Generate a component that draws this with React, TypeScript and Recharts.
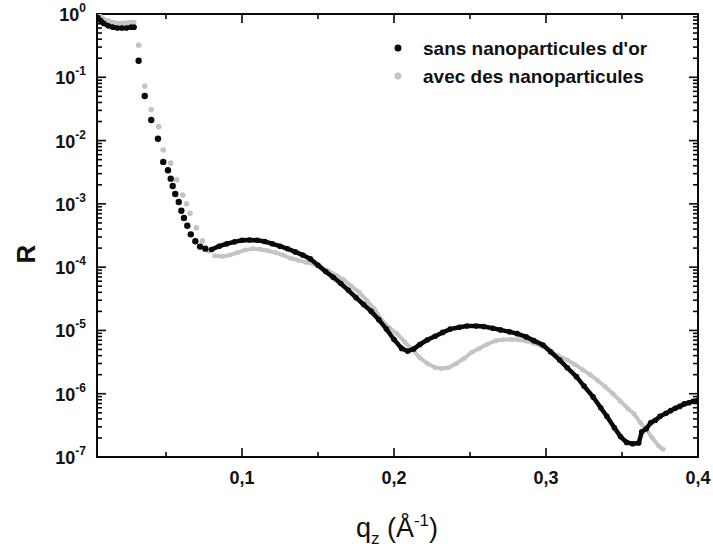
import { ScatterChart, Scatter, XAxis, YAxis } from "recharts"

// q_z (Å^-1) and reflectivity R
const qSans = [
  0.005, 0.007, 0.009, 0.012, 0.015, 0.018, 0.021, 0.024, 0.027, 0.029,
  0.032, 0.036, 0.0403, 0.0447, 0.0482, 0.0513, 0.0531, 0.0544, 0.0561, 0.0584,
  0.0601, 0.0618, 0.064, 0.0663, 0.0693, 0.0724, 0.0759,
  0.08, 0.085, 0.09, 0.095, 0.1, 0.105, 0.11, 0.115, 0.12, 0.125,
  0.13, 0.135, 0.14, 0.145, 0.15, 0.155, 0.16, 0.165, 0.17, 0.175,
  0.18, 0.185, 0.19, 0.195, 0.2, 0.205, 0.209, 0.213, 0.217, 0.222,
  0.227, 0.232, 0.237, 0.243, 0.248, 0.254, 0.259, 0.265, 0.27, 0.276,
  0.281, 0.287, 0.292, 0.298, 0.303, 0.309, 0.314, 0.32, 0.325, 0.331,
  0.336, 0.34, 0.345, 0.349, 0.353, 0.357, 0.361, 0.363, 0.366, 0.369,
  0.372, 0.375, 0.379, 0.382, 0.385, 0.388, 0.391, 0.394, 0.397, 0.4,
]
const rSans = [
  0.89, 0.79, 0.71, 0.65, 0.62, 0.6, 0.6, 0.6, 0.62, 0.62,
  0.183, 0.0507, 0.0211, 0.0107, 4.6e-3, 3.4e-3, 2.5e-3, 1.92e-3, 1.43e-3, 1.07e-3,
  7.8e-4, 6.0e-4, 4.5e-4, 3.3e-4, 2.56e-4, 2.11e-4, 1.96e-4,
  1.9e-4, 2.14e-4, 2.34e-4, 2.51e-4, 2.66e-4, 2.69e-4, 2.66e-4, 2.54e-4, 2.34e-4, 2.14e-4,
  1.95e-4, 1.74e-4, 1.55e-4, 1.35e-4, 1.07e-4, 8.5e-5, 6.9e-5, 5.5e-5, 4.3e-5, 3.3e-5,
  2.57e-5, 2.0e-5, 1.48e-5, 1.05e-5, 7.2e-6, 5.2e-6, 4.7e-6, 5.1e-6, 6.0e-6, 7.1e-6,
  8.1e-6, 9.3e-6, 1.05e-5, 1.12e-5, 1.17e-5, 1.17e-5, 1.15e-5, 1.08e-5, 1.02e-5, 9.5e-6,
  8.9e-6, 7.9e-6, 6.9e-6, 5.9e-6, 4.6e-6, 3.4e-6, 2.57e-6, 1.86e-6, 1.32e-6, 8.9e-7,
  6.0e-7, 4.4e-7, 2.9e-7, 2.1e-7, 1.7e-7, 1.62e-7, 1.66e-7, 2.5e-7, 2.8e-7, 3.5e-7,
  3.8e-7, 4.4e-7, 4.9e-7, 5.4e-7, 5.9e-7, 6.3e-7, 6.9e-7, 7.2e-7, 7.6e-7, 7.9e-7,
]

const qAvec = [
  0.005, 0.007, 0.009, 0.012, 0.015, 0.018, 0.021, 0.024, 0.027, 0.029,
  0.032, 0.036, 0.0403, 0.0452, 0.0482, 0.0531, 0.057, 0.061, 0.0635, 0.0658,
  0.07, 0.074, 0.078,
  0.082, 0.087, 0.092, 0.097, 0.102, 0.107, 0.112, 0.117, 0.122, 0.127,
  0.132, 0.137, 0.142, 0.147, 0.152, 0.157, 0.162, 0.167, 0.172, 0.177,
  0.182, 0.187, 0.192, 0.197, 0.202, 0.207, 0.212, 0.217, 0.222, 0.227,
  0.231, 0.236, 0.241, 0.246, 0.251, 0.256, 0.261, 0.267, 0.272, 0.277,
  0.282, 0.287, 0.292, 0.298, 0.303, 0.308, 0.314, 0.319, 0.324, 0.329,
  0.334, 0.339, 0.344, 0.349, 0.354, 0.358, 0.362, 0.366, 0.37, 0.374, 0.377,
]
const rAvec = [
  0.98, 0.91, 0.83, 0.78, 0.74, 0.72, 0.72, 0.73, 0.74, 0.74,
  0.32, 0.073, 0.031, 0.0166, 7.1e-3, 4.4e-3, 2.4e-3, 1.38e-3, 1.0e-3, 7.1e-4,
  4.2e-4, 2.6e-4, 1.82e-4,
  1.51e-4, 1.48e-4, 1.55e-4, 1.7e-4, 1.86e-4, 1.95e-4, 1.91e-4, 1.82e-4, 1.7e-4, 1.55e-4,
  1.38e-4, 1.29e-4, 1.2e-4, 1.12e-4, 1.0e-4, 8.7e-5, 7.4e-5, 6.3e-5, 5.0e-5, 4.0e-5,
  3.0e-5, 2.2e-5, 1.45e-5, 1.1e-5, 8.9e-6, 6.6e-6, 5.0e-6, 3.7e-6, 3.0e-6, 2.6e-6,
  2.5e-6, 2.6e-6, 3.0e-6, 3.6e-6, 4.5e-6, 5.2e-6, 6.0e-6, 6.9e-6, 7.1e-6, 7.2e-6,
  7.1e-6, 6.8e-6, 6.3e-6, 5.5e-6, 4.7e-6, 4.0e-6, 3.4e-6, 2.9e-6, 2.4e-6, 2.0e-6,
  1.62e-6, 1.29e-6, 1.0e-6, 7.6e-7, 5.8e-7, 4.8e-7, 3.5e-7, 2.7e-7, 2.0e-7, 1.51e-7, 1.32e-7,
]

const seriesNames = ["sans nanoparticules d'or", "avec des nanoparticules"]
const xMajorTicks = [0.1, 0.2, 0.3, 0.4]
const xMinorTicks = [0.05, 0.15, 0.25, 0.35]
const xTickLabels = ["0,1", "0,2", "0,3", "0,4"]
const yDecades = [-7, -6, -5, -4, -3, -2, -1, 0]
const yMinorSteps = [2, 3, 4, 5, 6, 7, 8, 9]

const FONT = '"Liberation Sans", Arial, sans-serif'
const BLACK = "#0a0a0a"
const GREY = "#c4c4c4"

const X_DOMAIN: [number, number] = [0.0046, 0.4]
const Y_DOMAIN: [number, number] = [1e-7, 1]

// plot frame (chart margins below put the plot here)
const PLOT = { left: 97, top: 14, right: 698, bottom: 457 }

const xTicks = [...xMinorTicks, ...xMajorTicks].sort((a, b) => a - b)
const yMajor = yDecades.map((e) => Math.pow(10, e))
const yMinor = yDecades.slice(0, -1).flatMap((e) => yMinorSteps.map((k) => k * Math.pow(10, e)))
const yTicks = [...yMajor, ...yMinor]

const toPoints = (qs: number[], rs: number[]) => qs.map((q, i) => ({ q, r: rs[i] }))
const sans = toPoints(qSans, rSans)
const avec = toPoints(qAvec, rAvec)
const isDrop = (p: { q: number }) => p.q > 0.03 && p.q < 0.0795
const isHead = (p: { q: number }) => p.q <= 0.03
const isTail = (p: { q: number }) => p.q >= 0.0795

// tick mark positions on the four sides of the frame (placed through the chart's scales)
const onLeft = (vs: number[]) => vs.map((r) => ({ q: X_DOMAIN[0], r }))
const onRight = (vs: number[]) => vs.map((r) => ({ q: X_DOMAIN[1], r }))
const onBottom = (vs: number[]) => vs.map((q) => ({ q, r: Y_DOMAIN[0] }))
const onTop = (vs: number[]) => vs.map((q) => ({ q, r: Y_DOMAIN[1] }))

const isDecade = (v: number) => {
  const lg = Math.log10(v)
  return Math.abs(lg - Math.round(lg)) < 1e-6
}

function LeftLabel({ y, payload }: any) {
  if (!isDecade(payload.value)) return <g />
  return (
    <text x={PLOT.left - 11} y={Number(y) + 7} textAnchor="end" fontFamily={FONT} fontWeight="bold" fontSize={18} fill="#111">
      10
      <tspan dy={-9} fontSize={12}>
        {Math.round(Math.log10(payload.value))}
      </tspan>
    </text>
  )
}

function BottomLabel({ x, payload }: any) {
  const idx = xMajorTicks.findIndex((t) => Math.abs(t - payload.value) < 1e-9)
  if (idx < 0) return <g />
  return (
    <text x={Number(x)} y={PLOT.bottom + 27} textAnchor="middle" fontFamily={FONT} fontWeight="bold" fontSize={18} fill="#111">
      {xTickLabels[idx]}
    </text>
  )
}

const dot = (r: number, fill: string) => (p: any) => <circle cx={p.cx} cy={p.cy} r={r} fill={fill} />
// inward tick mark; dx/dy give the direction into the plot
const mark = (len: number, dx: number, dy: number) => (p: any) => {
  const w = dx !== 0 ? len : 1.6
  const h = dy !== 0 ? len : 1.6
  const x = dx > 0 ? p.cx : dx < 0 ? p.cx - len : p.cx - 0.8
  const y = dy > 0 ? p.cy : dy < 0 ? p.cy - len : p.cy - 0.8
  return <rect x={x} y={y} width={w} height={h} fill={BLACK} />
}

export default function App() {
  return (
    <div style={{ position: "absolute", left: 0, top: 0, width: 713, height: 553, background: "#fff" }}>
      <svg width={713} height={553} style={{ position: "absolute", left: 0, top: 0 }}>
        <rect
          x={PLOT.left}
          y={PLOT.top}
          width={PLOT.right - PLOT.left}
          height={PLOT.bottom - PLOT.top}
          fill="none"
          stroke={BLACK}
          strokeWidth={2}
        />
        <circle cx={398} cy={48} r={3.5} fill={BLACK} />
        <text x={423} y={55} fontFamily={FONT} fontWeight="bold" fontSize={19} fill="#111">
          {seriesNames[0]}
        </text>
        <circle cx={398} cy={76} r={3.5} fill={GREY} />
        <text x={423} y={83} fontFamily={FONT} fontWeight="bold" fontSize={19} fill="#111">
          {seriesNames[1]}
        </text>
        <text x={35} y={254} transform="rotate(-90 35 254)" textAnchor="middle" fontFamily={FONT} fontWeight="bold" fontSize={26} fill="#111">
          R
        </text>
        <text x={397} y={537} textAnchor="middle" fontFamily={FONT} fontSize={27} fill="#111">
          q<tspan dy={7} fontSize={17}>z</tspan>
          <tspan dy={-7}> (Å</tspan>
          <tspan dy={-11} fontSize={17}>-1</tspan>
          <tspan dy={11}>)</tspan>
        </text>
      </svg>
      <div style={{ position: "absolute", left: 0, top: 0 }}>
        <ScatterChart width={713} height={553} margin={{ top: 14, right: 15, bottom: 36, left: 7 }}>
          <XAxis
            type="number"
            dataKey="q"
            domain={X_DOMAIN}
            allowDataOverflow
            ticks={xTicks}
            interval={0}
            tick={<BottomLabel />}
            tickSize={0}
            tickMargin={0}
            tickLine={false}
            axisLine={false}
            height={60}
          />
          <YAxis
            type="number"
            dataKey="r"
            scale="log"
            domain={Y_DOMAIN}
            allowDataOverflow
            ticks={yTicks}
            interval={0}
            tick={<LeftLabel />}
            tickSize={0}
            tickMargin={0}
            tickLine={false}
            axisLine={false}
            width={90}
          />
          <Scatter data={onLeft(yMajor)} shape={mark(9, 1, 0)} isAnimationActive={false} />
          <Scatter data={onLeft(yMinor)} shape={mark(5, 1, 0)} isAnimationActive={false} />
          <Scatter data={onRight(yMajor)} shape={mark(9, -1, 0)} isAnimationActive={false} />
          <Scatter data={onRight(yMinor)} shape={mark(5, -1, 0)} isAnimationActive={false} />
          <Scatter data={onBottom(xMajorTicks)} shape={mark(9, 0, -1)} isAnimationActive={false} />
          <Scatter data={onBottom(xMinorTicks)} shape={mark(5, 0, -1)} isAnimationActive={false} />
          <Scatter data={onTop(xMajorTicks)} shape={mark(9, 0, 1)} isAnimationActive={false} />
          <Scatter data={onTop(xMinorTicks)} shape={mark(5, 0, 1)} isAnimationActive={false} />
          <Scatter data={avec.filter(isHead)} line={{ stroke: GREY, strokeWidth: 4 }} lineType="joint" shape={dot(2.5, GREY)} isAnimationActive={false} />
          <Scatter data={avec.filter(isDrop)} shape={dot(2.8, GREY)} isAnimationActive={false} />
          <Scatter data={avec.filter(isTail)} line={{ stroke: GREY, strokeWidth: 4 }} lineType="joint" shape={dot(2.5, GREY)} isAnimationActive={false} />
          <Scatter data={sans.filter(isHead)} line={{ stroke: BLACK, strokeWidth: 4.5 }} lineType="joint" shape={dot(2.8, BLACK)} isAnimationActive={false} />
          <Scatter data={sans.filter(isDrop)} shape={dot(3.2, BLACK)} isAnimationActive={false} />
          <Scatter data={sans.filter(isTail)} line={{ stroke: BLACK, strokeWidth: 4.5 }} lineType="joint" shape={dot(2.8, BLACK)} isAnimationActive={false} />
        </ScatterChart>
      </div>
    </div>
  )
}
